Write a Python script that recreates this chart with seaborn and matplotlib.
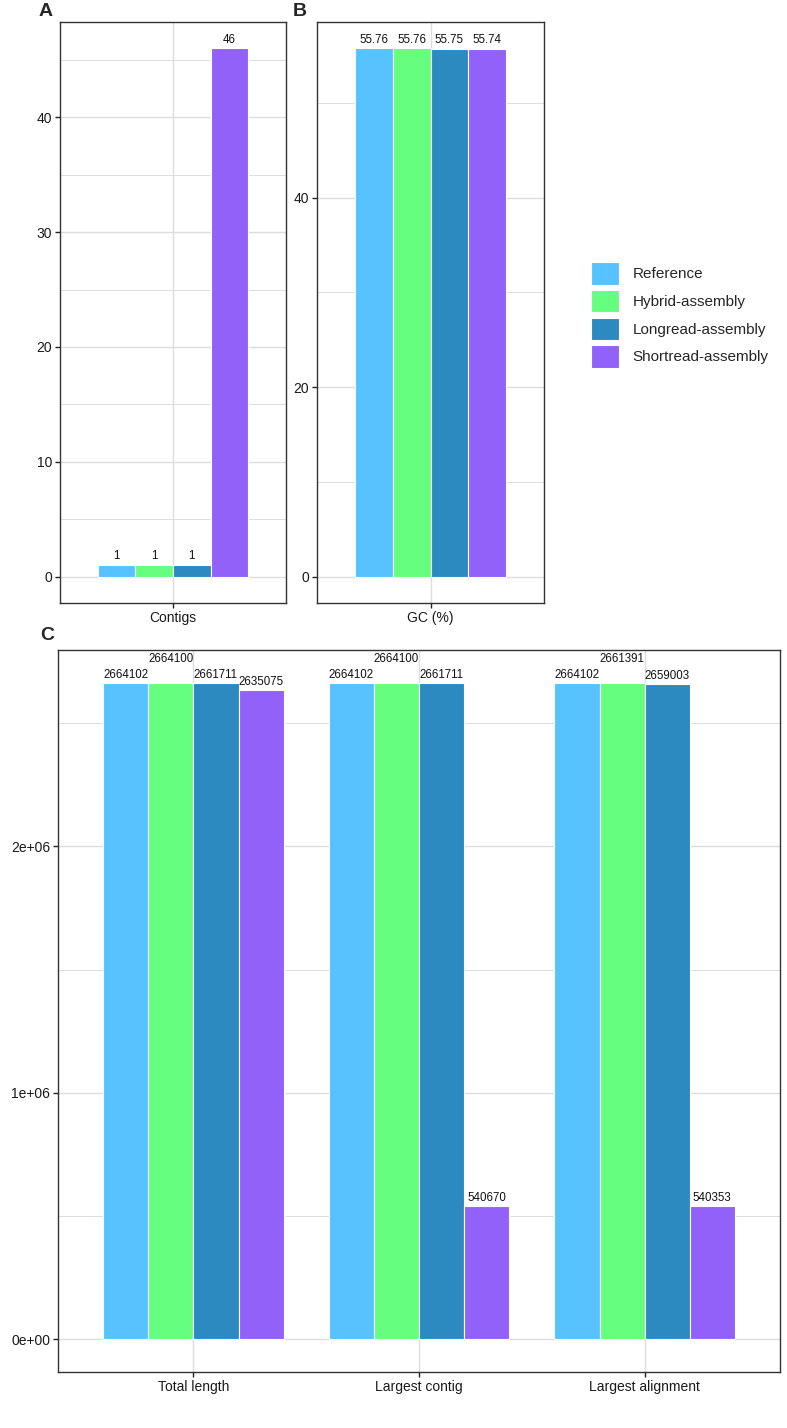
import numpy as np
import pandas as pd
import matplotlib
matplotlib.use('Agg')
import matplotlib.pyplot as plt
from matplotlib.patches import Patch
from matplotlib.ticker import MultipleLocator
import seaborn as sns

# values
assemblies = ['Reference', 'Hybrid-assembly', 'Longread-assembly', 'Shortread-assembly']
colors = ['#56C3FF', '#66FE7F', '#2C8AC0', '#9261FA']
contigs = [1, 1, 1, 46]
gc_content = [55.76, 55.76, 55.75, 55.74]
metrics = ['Total length', 'Largest contig', 'Largest alignment']
total_length = [2664102, 2664100, 2661711, 2635075]
largest_contig = [2664102, 2664100, 2661711, 540670]
largest_alignment = [2664102, 2661391, 2659003, 540353]

palette = dict(zip(assemblies, colors))

sns.set_theme(style='white')
plt.rcParams['font.family'] = ['Liberation Sans', 'DejaVu Sans']

df_a = pd.DataFrame({'metric': 'Contigs', 'assembly': assemblies, 'value': contigs})
df_b = pd.DataFrame({'metric': 'GC (%)', 'assembly': assemblies, 'value': gc_content})
df_c = pd.concat([
    pd.DataFrame({'metric': m, 'assembly': assemblies, 'value': v})
    for m, v in zip(metrics, [total_length, largest_contig, largest_alignment])
], ignore_index=True)

W, H = 787, 1428
fig = plt.figure(figsize=(W / 100, H / 100), dpi=100)

def box(left, top, right, bottom):
    return [left / W, 1 - bottom / H, (right - left) / W, (bottom - top) / H]

ax_a = fig.add_axes(box(60, 22, 286, 603))
ax_b = fig.add_axes(box(317, 22, 544, 603))
ax_c = fig.add_axes(box(58, 650, 780, 1372))

grid_col = '#dcdde0'

def draw(ax, df, order, ylim, major, minor, fmt, pads):
    sns.barplot(data=df, x='metric', y='value', hue='assembly', order=order,
                hue_order=assemblies, palette=palette, errorbar=None, width=0.8,
                edgecolor='white', linewidth=0.8, saturation=1, legend=False, ax=ax)
    ax.set_xlim(-0.6, len(order) - 0.4)
    ax.set_ylim(*ylim)
    ax.set_yticks(major)
    ax.yaxis.set_minor_locator(MultipleLocator(minor))
    ax.set_axisbelow(True)
    ax.grid(True, which='major', color=grid_col, linewidth=1.0)
    ax.grid(True, which='minor', axis='y', color=grid_col, linewidth=0.7)
    ax.tick_params(which='minor', length=0)
    ax.tick_params(which='major', left=True, bottom=True, length=3.5, width=1,
                   color='#222222', labelsize=10, labelcolor='#1a1a1a', pad=2)
    for s in ax.spines.values():
        s.set_visible(True)
        s.set_color('#333333')
        s.set_linewidth(1)
    ax.set_xlabel('')
    ax.set_ylabel('')
    for cont, pad in zip(ax.containers, pads):
        ax.bar_label(cont, labels=[fmt(b.get_height()) for b in cont],
                     padding=pad, fontsize=8.3, color='#111111')

draw(ax_a, df_a, ['Contigs'], (-2.3, 48.3), [0, 10, 20, 30, 40], 5,
     lambda v: f'{v:.0f}', [2, 2, 2, 2])
draw(ax_b, df_b, ['GC (%)'], (-2.79, 58.55), [0, 20, 40], 10,
     lambda v: f'{v:.2f}', [2, 2, 2, 2])
draw(ax_c, df_c, metrics, (-0.1332e6, 2.7973e6), [0, 1e6, 2e6], 0.5e6,
     lambda v: f'{v:.0f}', [1.5, 13, 1.5, 1.5])
ax_c.set_yticks([0, 1e6, 2e6], ['0e+00', '1e+06', '2e+06'])

# panel tags
fig.text(39 / W, 1 - 12 / H, 'A', fontsize=14, fontweight='bold', va='center', ha='left')
fig.text(293 / W, 1 - 12 / H, 'B', fontsize=14, fontweight='bold', va='center', ha='left')
fig.text(40 / W, 1 - 635 / H, 'C', fontsize=14, fontweight='bold', va='center', ha='left')

handles = [Patch(facecolor=c, edgecolor='white', linewidth=0.8) for c in colors]
fig.legend(handles, assemblies, loc='center left', bbox_to_anchor=(591 / W, 1 - 315 / H),
           frameon=False, fontsize=11, handlelength=1.85, handleheight=1.9,
           labelspacing=0.33, handletextpad=0.85, borderpad=0, borderaxespad=0)

fig.savefig('out.png', dpi=100)
